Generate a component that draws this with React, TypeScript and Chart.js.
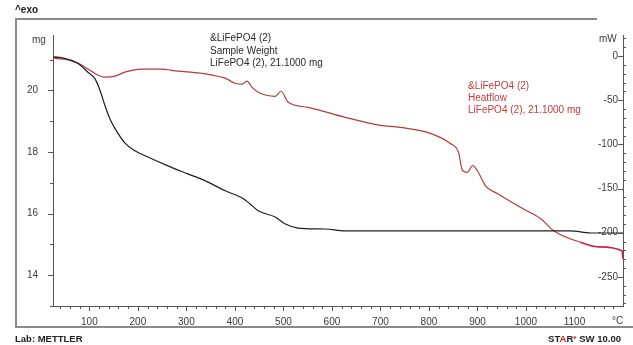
import React, { useEffect, useRef } from "react";
import { Chart, registerables } from "chart.js";

Chart.register(...registerables);

// Sample weight (mg) vs temperature (°C)
const weightTemp = [25, 29, 49, 76, 97, 111, 122, 132, 142, 153, 173, 194, 215, 262, 303, 338, 380, 415, 431, 448, 483, 504, 530, 586, 627, 844, 1092, 1133, 1200];
const weightMg = [21.08, 21.08, 21.04, 20.88, 20.59, 20.39, 20.0, 19.51, 19.09, 18.76, 18.3, 18.04, 17.88, 17.55, 17.29, 17.07, 16.74, 16.51, 16.32, 16.09, 15.89, 15.66, 15.53, 15.5, 15.44, 15.44, 15.44, 15.37, 15.37];

// Heat flow (mW) vs temperature (°C)
const heatTemp = [25, 29, 49, 76, 101, 118, 132, 153, 173, 208, 246, 283, 328, 353, 380, 400, 415, 425, 435, 448, 483, 495, 510, 551, 627, 700, 741, 803, 844, 861, 869, 879, 890, 902, 916, 941, 993, 1030, 1057, 1113, 1148, 1198, 1200];
const heatMw = [-1, -2.3, -3.4, -8, -16, -21.6, -23.9, -22.7, -18.2, -14.8, -14.8, -17, -19.3, -21.6, -25, -30.7, -31.8, -28.4, -35.2, -40.9, -45.5, -39.8, -52.3, -58, -69.3, -78.4, -80.7, -87.5, -99, -109, -129.5, -131.8, -123.9, -131.8, -146.6, -155.7, -172.7, -184, -197.7, -211, -216, -220.5, -229.5];

// Axis tick labels
const xTickLabels = [100, 200, 300, 400, 500, 600, 700, 800, 900, 1000, 1100];
const mgTickLabels = [14, 16, 18, 20];
const mwTickLabels = [0, -50, -100, -150, -200, -250];

const FONT = "'Liberation Sans', Arial, sans-serif";

function range(a: number, b: number, step: number) {
  const out: number[] = [];
  for (let v = a; v <= b + 1e-9; v += step) out.push(v);
  return out;
}

const tickPlugin = {
  id: "tickMarks",
  afterDraw(chart: any) {
    const { ctx, chartArea } = chart;
    const x = chart.scales.x;
    const y = chart.scales.y;
    const y2 = chart.scales.y2;
    ctx.save();
    ctx.strokeStyle = "#555";
    ctx.lineWidth = 1;
    const seg = (x1: number, y1: number, x2: number, y2p: number) => {
      ctx.beginPath();
      ctx.moveTo(x1, y1);
      ctx.lineTo(x2, y2p);
      ctx.stroke();
    };
    for (const v of range(40, 1180, 20)) {
      const px = Math.round(x.getPixelForValue(v)) + 0.5;
      const major = v % 100 === 0;
      seg(px, chartArea.bottom, px, chartArea.bottom + (major ? 5 : 3));
    }
    for (const v of range(13, 21, 1)) {
      const py = Math.round(y.getPixelForValue(v)) + 0.5;
      const major = v % 2 === 0;
      seg(chartArea.left, py, chartArea.left - (major ? 5 : 3), py);
    }
    for (const v of range(-280, 20, 10)) {
      const py = Math.round(y2.getPixelForValue(v)) + 0.5;
      const major = v % 50 === 0;
      if (major) seg(chartArea.right, py, chartArea.right - 5, py);
      else seg(chartArea.right, py, chartArea.right + 3, py);
    }
    ctx.restore();
  },
};

export default function App() {
  const ref = useRef<HTMLCanvasElement | null>(null);

  useEffect(() => {
    if (!ref.current) return;
    const weightPts = weightTemp.map((t, i) => ({ x: t, y: weightMg[i] }));
    const heatPts = heatTemp.map((t, i) => ({ x: t, y: heatMw[i] }));
    const tickFont = { family: FONT, size: 10 };
    const chart = new Chart(ref.current, {
      type: "line",
      data: {
        datasets: [
          {
            label: "Sample Weight",
            data: weightPts,
            yAxisID: "y",
            borderColor: "#1e1e1e",
            borderWidth: 1.2,
            pointRadius: 0,
            cubicInterpolationMode: "monotone",
          },
          {
            label: "Heatflow",
            data: heatPts,
            yAxisID: "y2",
            borderColor: "#b23a3a",
            borderWidth: 1.2,
            pointRadius: (c: any) => (c.dataIndex === 0 ? 4 : 0),
            pointStyle: "cross",
            pointBorderColor: "#c04040",
            pointBorderWidth: 1.2,
            cubicInterpolationMode: "monotone",
            segment: {
              borderColor: (c: any) => (c.p0.parsed.x >= 1080 ? "#d42050" : "#b23a3a"),
              borderWidth: (c: any) => (c.p0.parsed.x >= 1080 ? 1.8 : 1.2),
            },
          },
        ],
      },
      options: {
        animation: false,
        responsive: false,
        maintainAspectRatio: false,
        layout: { padding: { top: 35, left: 0, right: 0, bottom: 0 } },
        plugins: { legend: { display: false }, tooltip: { enabled: false } },
        scales: {
          x: {
            type: "linear",
            position: "bottom",
            min: 25,
            max: 1200,
            afterBuildTicks: (s: any) => {
              s.ticks = xTickLabels.map((v) => ({ value: v }));
            },
            afterFit: (s: any) => {
              s.height = 39;
            },
            ticks: {
              color: "#3a3a3a",
              font: tickFont,
              padding: 2,
              maxRotation: 0,
              autoSkip: false,
              callback: (v: any) => String(v),
            },
            grid: { display: false },
            border: { display: true, color: "#555", width: 1 },
          },
          y: {
            type: "linear",
            position: "left",
            min: 13,
            max: 21.8,
            afterBuildTicks: (s: any) => {
              s.ticks = mgTickLabels.map((v) => ({ value: v }));
            },
            afterFit: (s: any) => {
              s.width = 53;
            },
            ticks: { color: "#3a3a3a", font: tickFont, padding: 7, callback: (v: any) => String(v) },
            grid: { display: false },
            border: { display: true, color: "#555", width: 1 },
          },
          y2: {
            type: "linear",
            position: "right",
            min: -283,
            max: 23.9,
            afterBuildTicks: (s: any) => {
              s.ticks = mwTickLabels.map((v) => ({ value: v }));
            },
            afterFit: (s: any) => {
              s.width = 10;
            },
            ticks: { color: "#3a3a3a", font: tickFont, padding: -5, mirror: true, callback: (v: any) => String(v) },
            grid: { display: false },
            border: { display: true, color: "#555", width: 1 },
          },
        },
      },
      plugins: [tickPlugin],
    } as any);
    return () => chart.destroy();
  }, []);

  const abs = (s: React.CSSProperties): React.CSSProperties => ({ position: "absolute", whiteSpace: "nowrap", ...s });

  return (
    <div style={{ position: "absolute", left: 0, top: 0, width: 633, height: 345, background: "#fff", fontFamily: FONT, overflow: "hidden" }}>
      <canvas ref={ref} width={633} height={345} style={{ position: "absolute", left: 0, top: 0, width: 633, height: 345 }} />
      <div style={abs({ left: 15, top: 18, width: 582, height: 0, borderTop: "2px solid #8a8a8a" })} />
      <div style={abs({ left: 15, top: 18, width: 0, height: 309, borderLeft: "2px solid #8a8a8a" })} />
      <div style={abs({ left: 15, top: 326, width: 618, height: 0, borderTop: "2px solid #8a8a8a" })} />
      <div style={abs({ left: 15, top: 4, fontSize: 10, fontWeight: "bold", color: "#222", lineHeight: "12px" })}>^exo</div>
      <div style={abs({ left: 32, top: 34, fontSize: 10, color: "#3a3a3a", lineHeight: "12px" })}>mg</div>
      <div style={abs({ left: 599, top: 33, fontSize: 10, color: "#3a3a3a", lineHeight: "12px" })}>mW</div>
      <div style={abs({ left: 612, top: 315, fontSize: 10, color: "#3a3a3a", lineHeight: "12px" })}>°C</div>
      <div style={abs({ left: 210, top: 32, fontSize: 10, color: "#2a2a2a", lineHeight: "12.5px" })}>
        &amp;LiFePO4 (2)<br />Sample Weight<br />LiFePO4 (2), 21.1000 mg
      </div>
      <div style={abs({ left: 468, top: 80, fontSize: 10, color: "#c63a3a", lineHeight: "12px" })}>
        &amp;LiFePO4 (2)<br />Heatflow<br />LiFePO4 (2), 21.1000 mg
      </div>
      <div style={abs({ left: 15, top: 333, fontSize: 9.5, fontWeight: "bold", color: "#222", lineHeight: "12px" })}>Lab: METTLER</div>
      <div style={abs({ right: 12, top: 333, fontSize: 9.5, fontWeight: "bold", color: "#222", lineHeight: "12px" })}>
        ST<span style={{ color: "#d02020" }}>A</span>R
        <span style={{ fontSize: 6, color: "#d02020", verticalAlign: "top", lineHeight: "8px" }}>e</span> SW 10.00
      </div>
    </div>
  );
}
